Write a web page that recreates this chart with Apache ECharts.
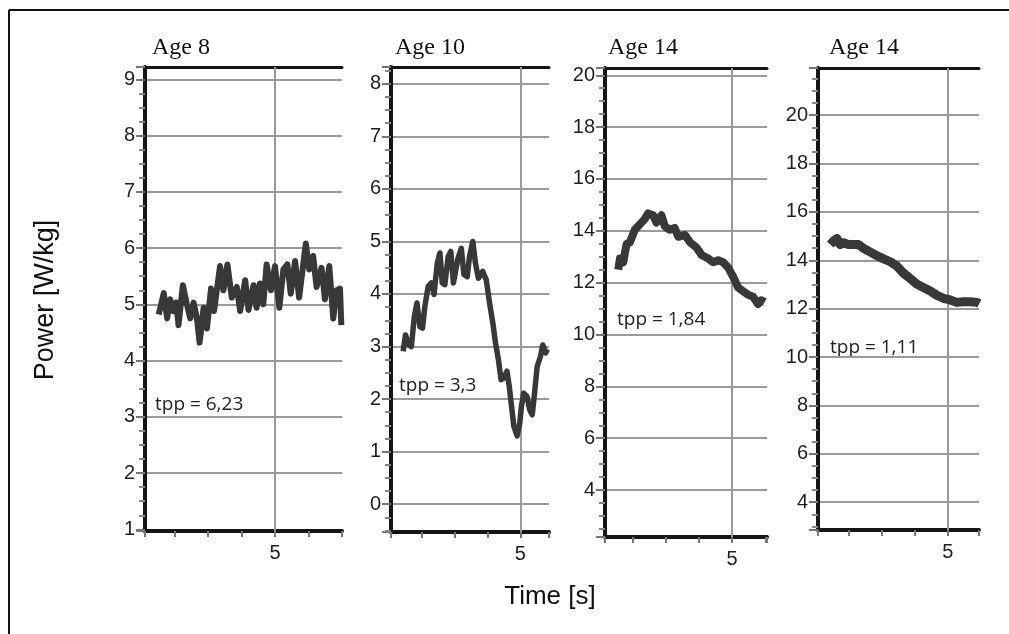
<!DOCTYPE html>
<html><head><meta charset="utf-8">
<script src="https://cdn.jsdelivr.net/npm/echarts@6/dist/echarts.min.js"></script>
<style>html,body{margin:0;padding:0;background:#fff}#c{width:1009px;height:634px}</style>
</head><body><div id="c"></div>
<script>
// ---- text ----
const titles = ['Age 8', 'Age 10', 'Age 14', 'Age 14'];
const tppLabels = ['tpp = 6,23', 'tpp = 3,3', 'tpp = 1,84', 'tpp = 1,11'];
const xAxisName = 'Time [s]';
const yAxisName = 'Power [W/kg]';
const xLabelShown = 5;

// ---- data (time in s, power in W/kg) ----
const age8Time = [1.53,1.68,1.78,1.87,1.97,2.05,2.12,2.25,2.37,2.47,2.57,2.67,2.75,2.87,2.97,3.09,3.18,3.36,3.46,3.58,3.71,3.86,3.96,4.11,4.21,4.36,4.45,4.55,4.65,4.75,4.88,5.0,5.13,5.25,5.37,5.47,5.6,5.72,5.92,6.02,6.14,6.24,6.39,6.49,6.62,6.74,6.84,6.94,6.98];
const age8Power = [4.82,5.2,4.75,5.09,4.88,5.03,4.63,5.34,5.0,4.75,5.03,4.75,4.32,4.94,4.57,5.28,4.88,5.68,5.25,5.71,5.12,5.31,4.88,5.43,4.9,5.34,4.94,5.37,5.0,5.71,5.25,5.68,4.94,5.62,5.71,5.19,5.77,5.12,6.08,5.62,5.86,5.31,5.65,5.09,5.68,4.75,5.25,5.28,4.63];

const age10Time = [1.43,1.5,1.6,1.68,1.77,1.85,1.94,2.02,2.09,2.19,2.29,2.37,2.47,2.55,2.62,2.7,2.8,2.88,2.96,3.02,3.1,3.2,3.28,3.38,3.45,3.55,3.63,3.72,3.85,3.96,4.06,4.16,4.24,4.33,4.41,4.49,4.59,4.66,4.73,4.8,4.9,4.98,5.03,5.1,5.2,5.28,5.36,5.43,5.51,5.61,5.68,5.77,5.82];
const age10Power = [2.91,3.22,3.03,3.0,3.57,3.83,3.38,3.35,3.76,4.14,4.21,3.99,4.59,4.78,4.21,4.18,4.71,4.81,4.21,4.18,4.68,4.87,4.37,4.33,4.71,5.0,4.59,4.3,4.43,4.27,3.83,3.45,3.07,2.75,2.37,2.4,2.53,2.24,1.86,1.48,1.3,1.54,1.86,2.11,2.05,1.8,1.7,2.11,2.62,2.81,3.03,2.88,2.95];

const age14aTime = [1.57,1.62,1.72,1.82,1.92,2.07,2.22,2.37,2.47,2.62,2.72,2.87,2.97,3.12,3.27,3.38,3.58,3.73,3.93,4.08,4.28,4.43,4.58,4.73,4.88,5.03,5.18,5.33,5.48,5.63,5.78,5.88,5.98];
const age14aPower = [12.5,12.93,12.79,13.49,13.56,14.04,14.25,14.46,14.67,14.6,14.32,14.6,14.18,14.04,14.11,13.77,13.84,13.56,13.35,13.07,12.93,12.79,12.86,12.79,12.58,12.23,11.81,11.67,11.53,11.46,11.18,11.32,11.25];

const age14bTime = [1.45,1.55,1.65,1.75,1.85,2.0,2.15,2.3,2.45,2.65,2.85,3.06,3.26,3.46,3.66,3.86,4.06,4.26,4.47,4.67,4.87,5.07,5.27,5.47,5.67,5.88,5.95];
const age14bPower = [14.65,14.8,14.9,14.65,14.72,14.65,14.65,14.65,14.5,14.35,14.2,14.06,13.94,13.76,13.47,13.25,13.02,12.88,12.73,12.55,12.43,12.36,12.26,12.29,12.29,12.26,12.21];

const seriesTimes = [age8Time, age10Time, age14aTime, age14bTime];
const seriesPowers = [age8Power, age10Power, age14aPower, age14bPower];

// ---- layout (pixels) and axis extents ----
const panels = [
  {left:145, top:67, width:197, height:464, xmin:1.12, xmax:7.0, ymin:0.97, ymax:9.22, split:8, lw:6, tx:152, ty:50, ax:155, ay:407},
  {left:391, top:67, width:158, height:465, xmin:1.06, xmax:5.87, ymin:-0.53, ymax:8.32, split:9, lw:5.5, tx:395, ty:50, ax:399, ay:388},
  {left:605, top:68, width:162, height:469, xmin:1.17, xmax:6.05, ymin:2.19, ymax:20.28, split:9, lw:8, tx:608, ty:50, ax:617, ay:322},
  {left:818, top:68, width:161, height:462, xmin:1.08, xmax:5.94, ymin:2.85, ymax:21.95, split:9, lw:9, tx:829, ty:50, ax:830, ay:350}
];

const labelStyle = {fontSize:20, color:'#1e1e1e', fontFamily:'Liberation Sans'};

const grid = [], xAxis = [], yAxis = [], series = [], graphic = [];
panels.forEach((p, i) => {
  grid.push({left:p.left, top:p.top, width:p.width, height:p.height, containLabel:false, outerBoundsMode:'none'});
  xAxis.push({
    type:'value', gridIndex:i, min:p.xmin, max:p.xmax, splitNumber:6, position:'bottom',
    axisLine:{show:true, onZero:false, lineStyle:{color:'#151515', width:4}},
    axisTick:{show:true, length:6, lineStyle:{color:'#777', width:2}},
    axisLabel:Object.assign({margin:12,
      formatter:v => (Math.abs(v - xLabelShown) < 1e-9 ? String(xLabelShown) : '')}, labelStyle),
    splitLine:{show:false}
  });
  xAxis.push({
    type:'value', gridIndex:i, min:p.xmin, max:p.xmax, position:'top',
    axisLine:{show:true, onZero:false, lineStyle:{color:'#151515', width:3}},
    axisTick:{show:false}, axisLabel:{show:false}, splitLine:{show:false}
  });
  yAxis.push({
    type:'value', gridIndex:i, min:p.ymin, max:p.ymax, splitNumber:p.split,
    axisLine:{show:true, onZero:false, lineStyle:{color:'#151515', width:4}},
    axisTick:{show:true, length:9, lineStyle:{color:'#777', width:2}},
    minorTick:{show:true, splitNumber:4, length:6, lineStyle:{color:'#888', width:2}},
    axisLabel:Object.assign({margin:10,
      formatter:v => (Math.abs(v - Math.round(v)) < 1e-9 ? String(Math.round(v)) : '')}, labelStyle),
    splitLine:{show:true, lineStyle:{color:'#9a9a9a', width:2}}
  });
  series.push({
    type:'line', xAxisIndex:i*2, yAxisIndex:i, showSymbol:false, symbol:'none', animation:false,
    data: seriesTimes[i].map((t, k) => [t, seriesPowers[i][k]]),
    lineStyle:{color:'#383838', width:p.lw, join:'round'}, z:3,
    markLine:{silent:true, symbol:'none', z:1, animation:false, label:{show:false},
      lineStyle:{color:'#9a9a9a', width:2, type:'solid'}, data:[{xAxis:xLabelShown}]}
  });
  graphic.push({type:'text', left:p.tx, top:p.ty - 14, style:{text:titles[i], font:'24px "Liberation Serif"', fill:'#111'}});
  graphic.push({type:'text', left:p.ax, top:p.ay - 12, style:{text:tppLabels[i], font:'19px "Open Sans"', fill:'#222'}});
});

graphic.push({type:'text', x:550, y:597, style:{text:xAxisName, font:'26px "Liberation Sans"', fill:'#111', align:'center', verticalAlign:'middle'}});
graphic.push({type:'text', x:46, y:300, rotation:Math.PI/2, style:{text:yAxisName, font:'27px "Liberation Sans"', fill:'#111', align:'center', verticalAlign:'middle'}});
graphic.push({type:'line', shape:{x1:9, y1:10, x2:9, y2:634}, style:{stroke:'#111', lineWidth:2}});
graphic.push({type:'line', shape:{x1:9, y1:10, x2:1009, y2:10}, style:{stroke:'#111', lineWidth:2}});

const chart = echarts.init(document.getElementById('c'), null, {renderer:'canvas'});
chart.setOption({backgroundColor:'#fff', animation:false, grid, xAxis, yAxis, series, graphic});
</script></body></html>
